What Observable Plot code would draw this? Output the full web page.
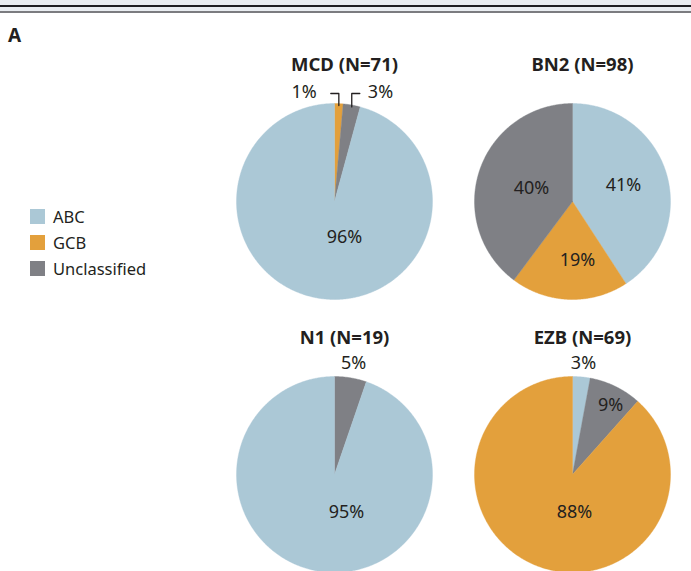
<!DOCTYPE html>
<html>
<head>
<meta charset="utf-8">
<script src="https://cdn.jsdelivr.net/npm/d3@7"></script>
<script src="https://cdn.jsdelivr.net/npm/@observablehq/plot@0.6"></script>
<style>
  html, body { margin: 0; padding: 0; background: #fff; }
  body { width: 691px; height: 571px; overflow: hidden; position: relative;
         font-family: "Noto Sans", sans-serif; color: #231f20; }
  .rule { position: absolute; left: 0; width: 691px; }
  #panel { position: absolute; left: 8px; top: 24px; font-weight: bold; font-size: 19px; line-height: 22px; }
  #legend { position: absolute; left: 30px; top: 203px; }
  .item { display: flex; align-items: center; height: 26px; font-size: 16.5px; }
  .sw { width: 15px; height: 15px; margin-right: 8px; }
  #chart { position: absolute; left: 0; top: 0; }
  #chart svg { overflow: visible; }
</style>
</head>
<body>
<div class="rule" style="top:0;height:5px;background:#e9edf1"></div>
<div class="rule" style="top:5px;height:1.5px;background:#1f1f22"></div>
<div class="rule" style="top:6.5px;height:4.5px;background:#e9edf1"></div>
<div class="rule" style="top:11px;height:2px;background:#7b7c80"></div>
<div id="panel">A</div>
<div id="legend"></div>
<div id="chart"></div>
<script>
// ---------- DATA ----------
const groups = ["MCD", "BN2", "N1", "EZB"];
const groupN = [71, 98, 19, 69];
const types = ["ABC", "GCB", "Unclassified"];
const typeColors = ["#abc8d6", "#e3a03c", "#7f8085"];
// slices clockwise from 12 o'clock, with case counts
const sliceTypes = [
  ["GCB", "Unclassified", "ABC"],
  ["ABC", "GCB", "Unclassified"],
  ["Unclassified", "ABC"],
  ["ABC", "Unclassified", "GCB"]
];
const sliceCounts = [
  [1, 2, 68],
  [40, 19, 39],
  [1, 18],
  [2, 6, 61]
];

// ---------- LAYOUT (label placement in pie-radius units) ----------
const labelSpots = {
  "MCD|GCB": [-0.311, 1.112], "MCD|Unclassified": [0.469, 1.112], "MCD|ABC": [0.102, -0.367],
  "BN2|ABC": [0.52, 0.163], "BN2|GCB": [0.051, -0.602], "BN2|Unclassified": [-0.418, 0.133],
  "N1|Unclassified": [0.194, 1.133], "N1|ABC": [0.122, -0.388],
  "EZB|ABC": [0.112, 1.133], "EZB|Unclassified": [0.388, 0.704], "EZB|GCB": [0.02, -0.388]
};
const bracketDirs = { "MCD|GCB": -1, "MCD|Unclassified": 1 };

// ---------- BUILD ----------
const slices = [], labels = [], brackets = [], titles = [];
groups.forEach((g, gi) => {
  const col = gi % 2, row = Math.floor(gi / 2);
  const N = groupN[gi];
  const total = d3.sum(sliceCounts[gi]);
  titles.push({text: `${g} (N=${N})`, col, row});
  let cum = 0;
  sliceTypes[gi].forEach((t, si) => {
    const c = sliceCounts[gi][si];
    const a0 = cum / total * 2 * Math.PI;
    cum += c;
    const a1 = cum / total * 2 * Math.PI;
    const id = `${g}|${t}`;
    const n = Math.max(2, Math.ceil((a1 - a0) / (Math.PI / 360)));
    slices.push({id, t, col, row, x: 0, y: 0});
    for (let k = 0; k <= n; k++) {
      const a = a0 + (a1 - a0) * k / n;
      slices.push({id, t, col, row, x: Math.sin(a), y: Math.cos(a)});
    }
    slices.push({id, t, col, row, x: 0, y: 0});
    const spot = labelSpots[id];
    labels.push({text: Math.round(c / N * 100) + "%", x: spot[0], y: spot[1], col, row});
    if (bracketDirs[id] !== undefined) {
      const am = (a0 + a1) / 2, bx = Math.sin(am);
      const top = 1.102;
      brackets.push({id, col, row, x: bx + bracketDirs[id] * 0.082, y: top});
      brackets.push({id, col, row, x: bx, y: top});
      brackets.push({id, col, row, x: bx, y: Math.cos(am) * 0.98});
    }
  });
});

const chart = Plot.plot({
  width: 691,
  height: 580,
  marginLeft: 236,
  marginRight: 21,
  marginTop: 103,
  marginBottom: 8,
  style: {background: "transparent", fontFamily: "Noto Sans, sans-serif", overflow: "visible"},
  x: {domain: [-1, 1], axis: null},
  y: {domain: [-1, 1], axis: null},
  fx: {domain: [0, 1], axis: null, paddingInner: 42 / 238, paddingOuter: 0},
  fy: {domain: [0, 1], axis: null, paddingInner: 77 / 273, paddingOuter: 0},
  color: {domain: types, range: typeColors},
  marks: [
    Plot.line(slices, {x: "x", y: "y", z: "id", fill: "t", stroke: "t", strokeWidth: 0.4, fx: "col", fy: "row", curve: "linear"}),
    Plot.line(brackets, {x: "x", y: "y", z: "id", stroke: "#231f20", strokeWidth: 1.3, fx: "col", fy: "row", curve: "linear"}),
    Plot.text(labels, {x: "x", y: "y", text: "text", fx: "col", fy: "row", fontSize: 18, fill: "#231f20"}),
    Plot.text(titles, {text: "text", fx: "col", fy: "row", frameAnchor: "top", lineAnchor: "middle", dx: 10, dy: -38, fontSize: 18.5, fontWeight: "bold", fill: "#231f20"})
  ]
});
document.getElementById("chart").appendChild(chart);

// legend
const legend = d3.select("#legend");
types.forEach((t, i) => {
  const it = legend.append("div").attr("class", "item");
  it.append("div").attr("class", "sw").style("background", typeColors[i]);
  it.append("span").text(t);
});
</script>
</body>
</html>
